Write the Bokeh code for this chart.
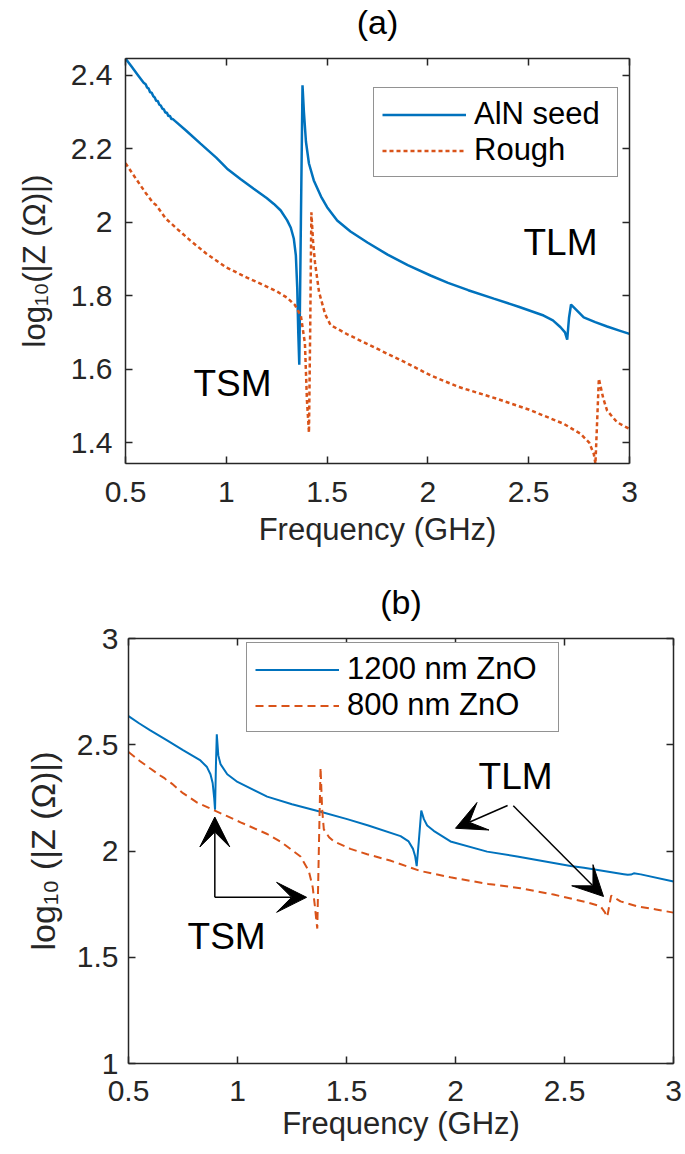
from bokeh.plotting import figure
from bokeh.layouts import column
from bokeh.models import (Range1d, LinearAxis, FixedTicker, CustomJSTickFormatter,
                          Legend, LegendItem, Arrow, VeeHead, Label)
from bokeh.embed import file_html
from bokeh.resources import INLINE

FONT = "Liberation Sans"
AX = "#262626"
BLUE = "#0072BD"
ORANGE = "#D95319"

# ---------------- data: panel (a) ----------------
fa_seed = [0.50, 0.53, 0.56, 0.59, 0.600, 0.607, 0.615, 0.622, 0.630, 0.638, 0.645, 0.652,
           0.660, 0.668, 0.675, 0.683, 0.690, 0.698, 0.705, 0.713, 0.720, 0.728, 0.735, 0.745,
           0.80, 0.872, 0.95, 1.004, 1.07, 1.136, 1.20, 1.236, 1.27, 1.302, 1.32, 1.335, 1.345,
           1.352, 1.357, 1.362, 1.370, 1.378, 1.385, 1.395, 1.41, 1.434, 1.47, 1.50, 1.55, 1.616,
           1.70, 1.80, 1.90, 2.013, 2.10, 2.20, 2.327, 2.45, 2.574, 2.62, 2.658, 2.68, 2.691,
           2.700, 2.710, 2.730, 2.773, 2.83, 2.889, 2.95, 3.00]
za_seed = [2.446, 2.424, 2.402, 2.380, 2.376, 2.367, 2.364, 2.354, 2.353, 2.343, 2.340, 2.331,
           2.330, 2.320, 2.318, 2.309, 2.308, 2.298, 2.299, 2.289, 2.290, 2.281, 2.281, 2.276,
           2.250, 2.214, 2.176, 2.146, 2.118, 2.091, 2.066, 2.050, 2.032, 2.005, 1.985, 1.955, 1.910,
           1.820, 1.700, 1.612, 2.000, 2.373, 2.300, 2.220, 2.160, 2.114, 2.070, 2.041, 2.005, 1.975,
           1.945, 1.912, 1.883, 1.855, 1.835, 1.815, 1.792, 1.770, 1.746, 1.733, 1.714, 1.700, 1.680,
           1.740, 1.776, 1.765, 1.741, 1.728, 1.716, 1.705, 1.696]

fa_rough = [0.50, 0.55, 0.60, 0.630, 0.640, 0.650, 0.660, 0.670, 0.70, 0.76, 0.822, 0.90, 1.00,
            1.10, 1.20, 1.25, 1.30, 1.34, 1.37, 1.39, 1.40, 1.410, 1.416, 1.422, 1.43, 1.44, 1.46,
            1.49, 1.517, 1.60, 1.765, 1.90, 2.013, 2.15, 2.344, 2.50, 2.674, 2.757, 2.80, 2.823,
            2.831, 2.848, 2.87, 2.889, 2.939, 3.00]
za_rough = [2.161, 2.120, 2.080, 2.058, 2.052, 2.048, 2.040, 2.033, 2.010, 1.980, 1.950, 1.915,
            1.877, 1.850, 1.825, 1.812, 1.795, 1.775, 1.745, 1.670, 1.515, 1.427, 1.700, 2.027,
            1.950, 1.890, 1.810, 1.750, 1.720, 1.695, 1.651, 1.615, 1.583, 1.552, 1.519, 1.490,
            1.451, 1.424, 1.400, 1.369, 1.342, 1.574, 1.520, 1.487, 1.455, 1.437]

# ---------------- data: panel (b) ----------------
fb_1200 = [0.50, 0.55, 0.60, 0.677, 0.75, 0.83, 0.86, 0.876, 0.886, 0.893, 0.897, 0.901, 0.905,
           0.912, 0.922, 0.953, 1.00, 1.136, 1.25, 1.381, 1.503, 1.60, 1.748, 1.785, 1.805, 1.815,
           1.822, 1.832, 1.843, 1.855, 1.87, 1.90, 1.977, 2.145, 2.283, 2.528, 2.589, 2.772, 2.79,
           2.805, 2.818, 2.85, 3.00]
zb_1200 = [2.635, 2.600, 2.568, 2.521, 2.475, 2.426, 2.395, 2.361, 2.320, 2.250, 2.194, 2.400,
           2.549, 2.450, 2.409, 2.361, 2.325, 2.256, 2.220, 2.185, 2.150, 2.120, 2.070, 2.045,
           2.010, 1.975, 1.929, 2.050, 2.190, 2.150, 2.120, 2.095, 2.045, 1.997, 1.974, 1.929,
           1.921, 1.891, 1.888, 1.889, 1.895, 1.890, 1.856]

fb_800 = [0.50, 0.55, 0.60, 0.65, 0.665, 0.675, 0.685, 0.70, 0.75, 0.815, 0.896, 0.95, 1.014,
          1.136, 1.20, 1.289, 1.327, 1.345, 1.355, 1.362, 1.366, 1.373, 1.381, 1.388, 1.396, 1.42,
          1.442, 1.518, 1.595, 1.70, 1.839, 1.977, 2.15, 2.298, 2.45, 2.604, 2.665, 2.683, 2.696,
          2.714, 2.757, 2.833, 2.92, 3.00]
zb_800 = [2.466, 2.425, 2.388, 2.352, 2.343, 2.333, 2.328, 2.316, 2.272, 2.228, 2.190, 2.165,
          2.135, 2.080, 2.042, 1.974, 1.906, 1.830, 1.740, 1.670, 1.635, 2.000, 2.393, 2.200,
          2.102, 2.065, 2.045, 2.010, 1.985, 1.955, 1.906, 1.876, 1.845, 1.825, 1.795, 1.758,
          1.740, 1.715, 1.690, 1.790, 1.763, 1.740, 1.725, 1.710]

# ticks
x_ticks = [0.5, 1, 1.5, 2, 2.5, 3]
ya_ticks = [1.4, 1.6, 1.8, 2.0, 2.2, 2.4]
yb_ticks = [1, 1.5, 2, 2.5, 3]

# annotation anchors (data units)
a_tlm = (2.474, 1.945)
a_tsm = (0.837, 1.561)
b_tlm = (2.106, 2.350)
b_tsm = (0.771, 1.597)
b_tsm_corner = (0.896, 1.782)
b_tsm_up = (0.896, 2.16)
b_tsm_right = (1.317, 1.782)
b_tlm_start1 = (2.239, 2.214)
b_tlm_end1 = (2.0, 2.107)
b_tlm_start2 = (2.265, 2.213)
b_tlm_end2 = (2.679, 1.786)


def style_axes(p, yt, tick_fs, xlab_fs, ylab_fs, x_stand, xlab_stand, y_stand, ylab_stand):
    top = LinearAxis()
    right = LinearAxis()
    p.add_layout(top, "above")
    p.add_layout(right, "right")
    fmt = CustomJSTickFormatter(code="return String(Math.round(tick*100)/100);")
    for ax in p.xaxis + p.yaxis:
        ax.axis_line_color = AX
        ax.axis_line_width = 1.5
        ax.major_tick_line_color = AX
        ax.major_tick_line_width = 1.5
        ax.major_tick_in = 7
        ax.major_tick_out = 0
        ax.minor_tick_line_color = None
        ax.major_label_text_font = FONT
        ax.major_label_text_color = AX
        ax.major_label_text_font_size = tick_fs
        ax.axis_label_text_font = FONT
        ax.axis_label_text_font_style = "normal"
        ax.axis_label_text_color = AX
        ax.formatter = fmt
    for ax in p.xaxis:
        ax.ticker = FixedTicker(ticks=x_ticks)
        ax.major_label_standoff = x_stand
        ax.axis_label_standoff = xlab_stand
        ax.axis_label_text_font_size = xlab_fs
    for ax in p.yaxis:
        ax.ticker = FixedTicker(ticks=yt)
        ax.major_label_standoff = y_stand
        ax.axis_label_standoff = ylab_stand
        ax.axis_label_text_font_size = ylab_fs
    blank = CustomJSTickFormatter(code="return '';")
    for ax in (top, right):
        ax.formatter = blank
        ax.major_label_standoff = 0
        ax.axis_label = None
    # invisible spacer above the top axis: lifts the title away from the frame
    spacer = LinearAxis(ticker=FixedTicker(ticks=x_ticks), formatter=blank,
                        axis_line_color=None, major_tick_line_color=None,
                        minor_tick_line_color=None, major_tick_in=0, major_tick_out=18,
                        major_label_standoff=0)
    p.add_layout(spacer, "above")
    p.xgrid.grid_line_color = None
    p.ygrid.grid_line_color = None
    p.outline_line_color = None


def make_legend(p, items, loc, label_width):
    leg = Legend(items=items, location=loc)
    leg.label_text_font = FONT
    leg.label_text_font_size = "31px"
    leg.label_text_color = "#000000"
    leg.glyph_width = 84
    leg.glyph_height = 35
    leg.label_height = 35
    leg.label_width = label_width
    leg.label_standoff = 8
    leg.spacing = 0
    leg.padding = 8
    leg.margin = 0
    leg.border_line_color = AX
    leg.border_line_width = 1.5
    leg.background_fill_color = "white"
    leg.background_fill_alpha = 1.0
    p.add_layout(leg)


def add_label(p, xy, text, size="37px"):
    p.add_layout(Label(x=xy[0], y=xy[1], text=text, text_font=FONT, text_font_size=size,
                       text_color="#000000", text_align="left", text_baseline="alphabetic"))


def style_title(p):
    p.title.text_font = FONT
    p.title.text_font_size = "34px"
    p.title.text_font_style = "normal"
    p.title.text_color = "#000000"
    p.title.align = "center"
    p.title.standoff = 0


# ---------------- panel (a) ----------------
pa = figure(width=685, height=577, x_range=Range1d(0.5, 3), y_range=Range1d(1.343, 2.446),
            output_backend="svg", toolbar_location=None, title="(a)", frame_align=False,
            min_border_left=125, min_border_right=56, min_border_top=58, min_border_bottom=114,
            background_fill_color="white", border_fill_color="white")
style_title(pa)

r1 = pa.line(fa_seed, za_seed, line_color=BLUE, line_width=2.5)
r2 = pa.line(fa_rough, za_rough, line_color=ORANGE, line_width=2.5, line_dash="4 3")
pa.xaxis.axis_label = "Frequency (GHz)"
pa.yaxis.axis_label = "log\u2081\u2080(|Z (\u03a9)|)"
style_axes(pa, ya_ticks, "30px", "31px", "31px", 18, 7, 13, 16)
pa.below[0].axis_label = "Frequency (GHz)"
make_legend(pa, [LegendItem(label="AlN seed", renderers=[r1]),
                 LegendItem(label="Rough", renderers=[r2])], (248, 286), 135)
add_label(pa, a_tlm, "TLM")
add_label(pa, a_tsm, "TSM")

# ---------------- panel (b) ----------------
pb = figure(width=685, height=577, x_range=Range1d(0.5, 3), y_range=Range1d(1, 3),
            output_backend="svg", toolbar_location=None, title="(b)", frame_align=False,
            min_border_left=128, min_border_right=12, min_border_top=61, min_border_bottom=91,
            background_fill_color="white", border_fill_color="white")
style_title(pb)

r3 = pb.line(fb_1200, zb_1200, line_color=BLUE, line_width=2)
r4 = pb.line(fb_800, zb_800, line_color=ORANGE, line_width=2, line_dash="8 5")
pb.xaxis.axis_label = "Frequency (GHz)"
pb.yaxis.axis_label = "log\u2081\u2080 (|Z (\u03a9)|)"
style_axes(pb, yb_ticks, "30px", "31px", "34px", 17, 2, 10, 12)
make_legend(pb, [LegendItem(label="1200 nm ZnO", renderers=[r3]),
                 LegendItem(label="800 nm ZnO", renderers=[r4])], (118, 331), 203)
add_label(pb, b_tlm, "TLM")
add_label(pb, b_tsm, "TSM")


def arrow(p, start, end):
    p.add_layout(Arrow(end=VeeHead(size=30, fill_color="black", line_color="black", line_width=1),
                       x_start=start[0], y_start=start[1], x_end=end[0], y_end=end[1],
                       line_color="black", line_width=1.5))


arrow(pb, b_tsm_corner, b_tsm_up)
arrow(pb, b_tsm_corner, b_tsm_right)
arrow(pb, b_tlm_start1, b_tlm_end1)
arrow(pb, b_tlm_start2, b_tlm_end2)

layout = column(pa, pb, spacing=0)
open("out.html", "w").write(file_html(layout, INLINE))
